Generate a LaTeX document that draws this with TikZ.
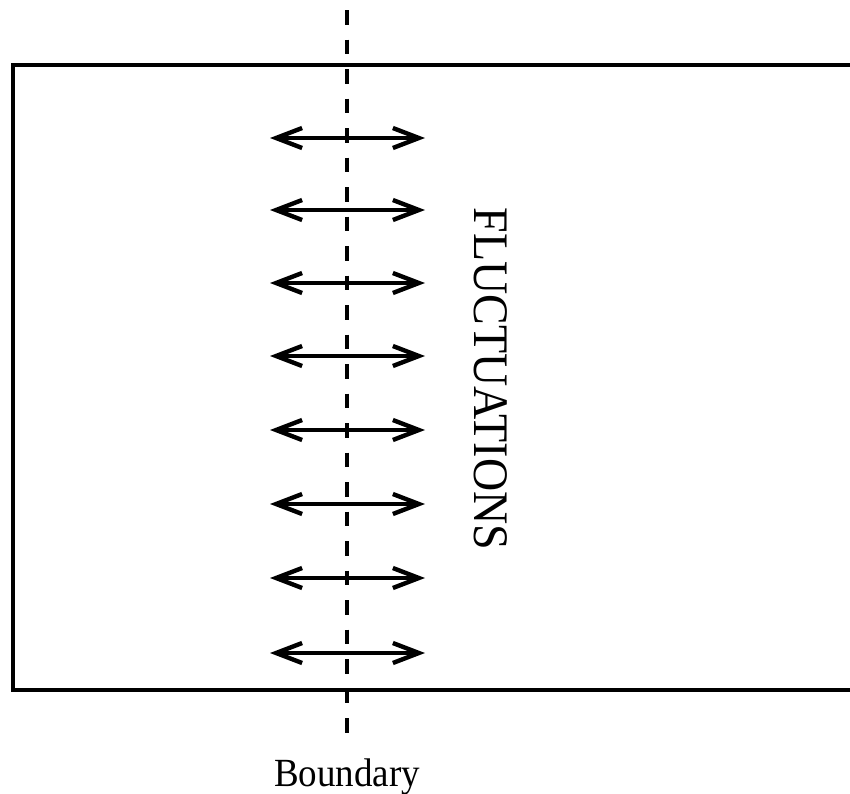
\documentclass[tikz,border=0pt]{standalone}
\usepackage{fontspec}
\setmainfont{Liberation Serif}
\usetikzlibrary{arrows.meta}
\begin{document}
\begin{tikzpicture}[x=1pt,y=-1pt,
  frame/.style={line width=3.6pt},
  fluct/.style={line width=4.4pt,{Straight Barb[length=26pt,width=20pt]}-{Straight Barb[length=26pt,width=20pt]}},
  bdry/.style={line width=3.2pt,dash pattern=on 14.5pt off 15pt}]
\useasboundingbox (0,0) rectangle (850,793);
\coordinate (tr) at (860,65);
\coordinate (tl) at (13,65);
\coordinate (bl) at (13,690);
\coordinate (br) at (860,690);
\draw[frame] (tr) -- (tl) -- (bl) -- (br);
\coordinate (btop) at (347,10);
\coordinate (bbot) at (347,733);
\draw[bdry] (btop) -- (bbot);
\foreach \y [count=\i] in {138,210,283,356,430,504,578,653}{
  \coordinate (l\i) at (270,\y);
  \coordinate (r\i) at (425,\y);
  \draw[fluct] (l\i) -- (r\i);
}
\node[rotate=-90,font=\fontsize{46}{50}\selectfont,inner sep=0pt,yscale=1.08] (fl) at (491,379) {FLUCTUATIONS};
\node[font=\fontsize{37}{40}\selectfont,inner sep=0pt,anchor=base,yscale=1.08] (bd) at (347,786) {Boundary};
\end{tikzpicture}
\end{document}
